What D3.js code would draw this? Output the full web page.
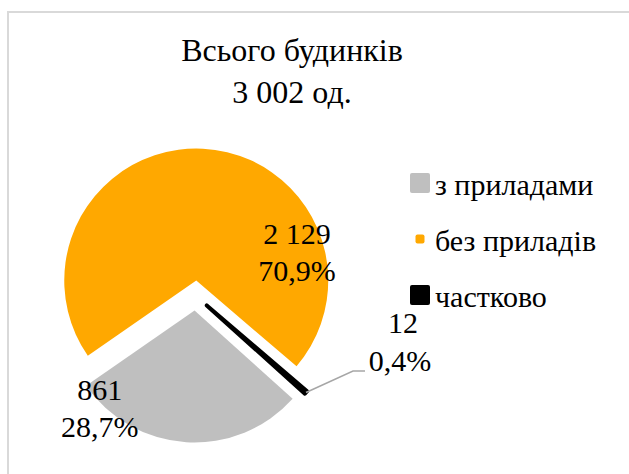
<!DOCTYPE html>
<html>
<head>
<meta charset="utf-8">
<script src="https://cdn.jsdelivr.net/npm/d3@7"></script>
<style>
  html, body { margin: 0; padding: 0; background: #fff; }
  svg { display: block; }
</style>
</head>
<body>
<div id="chart"></div>
<script>
// ---- data ----
const titleLines = ["Всього будинків", "3 002 од."];
const categories = ["з приладами", "без приладів", "частково"];
const values = [861, 2129, 12];
const valueLabels = ["861", "2 129", "12"];
const percentLabels = ["28,7%", "70,9%", "0,4%"];
const colors = ["#bfbfbf", "#ffa800", "#000000"];

// ---- layout / style ----
const W = 629, H = 474;
const FONT = "'Liberation Serif', 'Times New Roman', serif";
const cx = 195.5, cy = 295.5, R = 132, explode = 15;
const startDeg = 132;
const markerSize = [20, 9, 20];
const toRad = d => d * Math.PI / 180;

const svg = d3.select("#chart").append("svg")
  .attr("width", W).attr("height", H)
  .attr("font-family", FONT);

svg.append("rect").attr("width", W).attr("height", H).attr("fill", "#fff");
// chart area border (right/bottom edges fall outside the window)
svg.append("rect")
  .attr("x", 8).attr("y", 12).attr("width", W + 10).attr("height", H + 10)
  .attr("fill", "none").attr("stroke", "#d9d9d9").attr("stroke-width", 2);

// title
titleLines.forEach((s, i) => {
  svg.append("text")
    .attr("x", 292).attr("y", 61 + i * 42)
    .attr("text-anchor", "middle").attr("font-size", 32)
    .style("font-family", FONT)
    .text(s);
});

// pie
const pie = d3.pie().sort(null)
  .startAngle(toRad(startDeg)).endAngle(toRad(startDeg) + 2 * Math.PI);
const arcs = pie(values);
const arc = d3.arc().innerRadius(0).outerRadius(R);

const g = svg.append("g").attr("transform", `translate(${cx},${cy})`);
const offset = a => {
  const m = (a.startAngle + a.endAngle) / 2;
  return [explode * Math.sin(m), -explode * Math.cos(m)];
};

g.selectAll("path.slice").data(arcs).join("path")
  .attr("class", "slice")
  .attr("transform", d => { const o = offset(d); return `translate(${o[0]},${o[1]})`; })
  .attr("d", arc)
  .attr("fill", (d, i) => colors[i])
  .attr("stroke", (d, i) => i === 2 ? "#000" : "none")
  .attr("stroke-width", (d, i) => i === 2 ? 4 : 0)
  .attr("stroke-linejoin", "round");

// data labels (inside for big slices)
const labelPolar = [[221, 146], [66, 111]];
const fs = 30;
function label(x, y, s) {
  g.append("text").attr("x", x).attr("y", y)
    .attr("text-anchor", "middle").attr("font-size", fs)
    .style("font-family", FONT).text(s);
}
arcs.slice(0, 2).forEach((a, i) => {
  const [ang, rr] = labelPolar[i];
  const x = rr * Math.sin(toRad(ang)), y = -rr * Math.cos(toRad(ang));
  label(x, y - 6, valueLabels[i]);
  label(x, y + 31, percentLabels[i]);
});

// small slice label with leader line
{
  const a = arcs[2];
  const m = (a.startAngle + a.endAngle) / 2;
  const o = offset(a);
  const px = o[0] + R * Math.sin(m), py = o[1] - R * Math.cos(m);
  const lx = 365 - cx, ly = 371 - cy;
  g.append("polyline")
    .attr("points", [[px, py], [lx - 12, ly], [lx, ly]].map(p => p.join(",")).join(" "))
    .attr("fill", "none").attr("stroke", "#a6a6a6").attr("stroke-width", 1.5);
  label(lx + 38, 333 - cy, valueLabels[2]);
  label(lx + 35, 371 - cy, percentLabels[2]);
}

// legend
const leg = svg.append("g").attr("transform", "translate(420,183)");
const items = leg.selectAll("g").data(categories).join("g")
  .attr("transform", (d, i) => `translate(0,${i * 56})`);
items.append("rect")
  .attr("x", (d, i) => -markerSize[i] / 2).attr("y", (d, i) => -markerSize[i] / 2)
  .attr("width", (d, i) => markerSize[i]).attr("height", (d, i) => markerSize[i])
  .attr("rx", 2)
  .attr("fill", (d, i) => colors[i]);
items.append("text")
  .attr("x", 15).attr("y", 12).attr("font-size", 30)
  .style("font-family", FONT)
  .text(d => d);
</script>
</body>
</html>
